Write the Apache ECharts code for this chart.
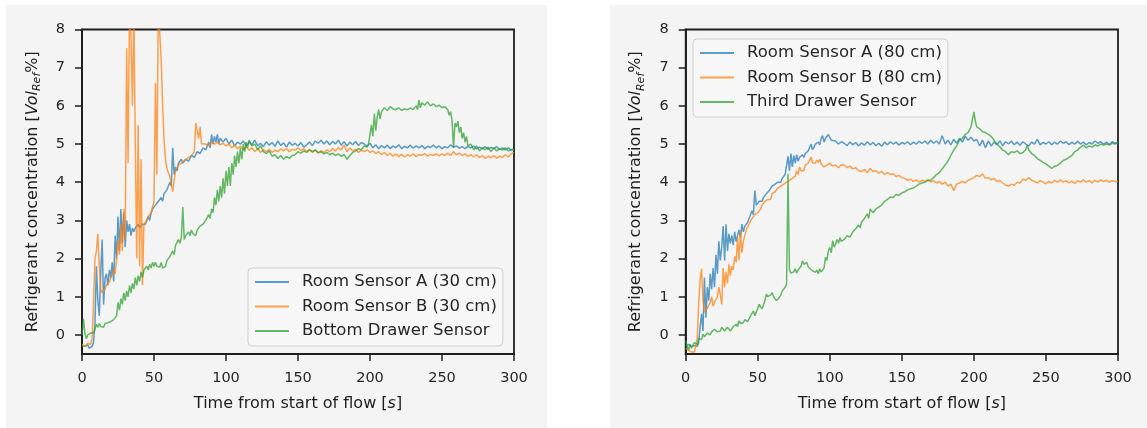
<!DOCTYPE html>
<html>
<head>
<meta charset="utf-8">
<script src="https://cdn.jsdelivr.net/npm/echarts@6/dist/echarts.min.js"></script>
<style>
  html, body { margin: 0; padding: 0; background: #ffffff; }
  #chart { width: 1147px; height: 428px; }
</style>
</head>
<body>
<div id="chart"></div>
<script>
// Sensor readings, [time in s, concentration in Vol_Ref %]
const roomA30 = [[0,-0.28],[2,-0.3],[4,-0.26],[5,-0.35],[6,-0.32],[7,-0.3],[8,-0.2],[9,0.3],[10,1.8],[11,0.9],[12,0.5],[13,1.6],[14,2.5],[15,0.8],[16,1.5],[17,1.6],[18,1.3],[19,1.7],[20,1.5],[21,1.9],[22,1.4],[23,2.6],[24,2.0],[25,3.1],[26,2.2],[27,3.3],[28,2.4],[29,3.2],[30,2.3],[31,3.0],[32,2.7],[33,2.9],[34,2.6],[35,2.8],[36,2.7],[37,2.8],[38,2.75],[39,2.9],[40,2.8],[41,2.75],[42,2.9],[43,2.85],[44,2.9],[45,3.0],[46,3.1],[47,3.0],[48,3.2],[49,3.3],[50,3.25],[51,3.4],[52,3.35],[53,3.5],[54,3.45],[55,3.6],[56,3.5],[57,3.7],[58,3.65],[59,3.8],[60,3.75],[61,4.0],[62,3.9],[63,4.9],[64,4.2],[65,4.4],[66,4.3],[67,4.5],[68,4.45],[69,4.6],[70,4.5],[72,4.6],[74,4.55],[76,4.7],[78,4.65],[80,4.8],[82,4.75],[84,4.9],[86,4.85],[88,5.05],[89,4.9],[90,5.25],[91,5.0],[92,5.2],[93,5.05],[94,5.25],[95,5.0],[96,5.15],[98,5.05],[100,5.15],[102,5.0],[104,5.1],[106,4.95],[108,5.05],
  [110,5.0],[112,5.08],[114,4.95],[116,5.05],[118,4.98],[120,5.1],[122,4.95],[124,5.02],[126,4.93],[128,5.06],[130,4.97],[132,5.04],[134,4.94],[136,5.08],[138,4.96],[140,5.03],[142,4.92],[144,5.05],[146,4.97],[148,5.02],[150,4.95],[152,5.04],[154,4.92],[156,4.98],[158,5.05],[160,4.96],[162,5.08],[164,5.02],[166,5.1],[168,5.0],[170,5.08],[172,4.98],[174,5.07],[176,5.0],[178,5.1],[180,4.97],[182,5.06],[184,4.95],[186,5.05],[188,4.98],[190,5.07],[192,4.96],[194,5.04],[196,5.0],[198,4.94],[200,5.02],[202,4.9],[204,4.98],[206,4.88],[208,4.96],[210,4.9],[212,4.97],[214,4.88],[216,4.95],[218,4.9],[220,4.98],[222,4.88],[224,4.94],[226,4.9],[228,4.97],[230,4.89],[232,4.95],[234,4.9],[236,4.96],[238,4.88],[240,4.94],[242,4.91],[244,4.97],[246,4.9],[248,4.95],[250,4.88],[252,4.93],[254,4.9],[256,4.98],[258,4.92],[260,4.95],[262,4.89],[264,4.93],[266,4.88],[268,4.94],[270,4.9],[272,4.95],[274,4.87],[276,4.92],[278,4.88],[280,4.93],[282,4.86],[284,4.91],[286,4.88],[288,4.93],[290,4.86],[292,4.9],[294,4.85],[296,4.9],[298,4.84],[300,4.86]];

const roomB30 = [[0,-0.25],[2,-0.3],[4,-0.22],[6,-0.25],[7,-0.1],[8,0.8],[9,2.0],[10,2.2],[11,2.65],[12,1.8],[13,1.2],[14,1.1],[15,1.1],[16,1.2],[17,1.3],[18,1.25],[19,1.4],[20,1.5],[21,1.45],[22,1.7],[23,1.6],[24,2.0],[25,2.5],[26,2.1],[27,2.9],[28,2.2],[29,3.3],[30,2.5],[31,7.5],[32,4.5],[33,8.6],[34,7.8],[35,6.0],[36,8.6],[37,5.0],[38,2.0],[39,5.5],[40,1.8],[41,4.6],[42,1.3],[43,2.9],[44,2.85],[45,3.0],[46,3.1],[47,3.05],[48,3.2],[49,3.35],[50,3.5],[51,6.6],[52,4.2],[53,8.6],[54,8.6],[55,7.2],[56,6.0],[57,5.1],[58,4.6],[59,4.35],[60,4.25],[61,4.15],[62,4.1],[63,3.75],[64,4.05],[65,4.3],[66,4.25],[67,4.45],[68,4.4],[69,4.5],[70,4.55],[72,4.6],[74,4.65],[76,4.7],[78,4.8],[79,5.55],[80,5.5],[81,5.15],[82,5.45],[83,5.0],[84,4.95],[86,5.0],[88,4.95],[90,5.05],[92,5.0],[94,5.05],[96,4.98],[98,5.02],
  [100,4.95],[102,5.0],[104,4.9],[106,4.97],[108,4.88],[110,4.95],[112,4.85],[114,4.92],[116,4.84],[118,4.9],[120,4.8],[122,4.88],[124,4.78],[126,4.85],[128,4.8],[130,4.86],[132,4.78],[134,4.84],[136,4.8],[138,4.87],[140,4.82],[142,4.88],[144,4.8],[146,4.86],[148,4.84],[150,4.9],[152,4.83],[154,4.88],[156,4.8],[158,4.86],[160,4.78],[162,4.84],[164,4.76],[166,4.82],[168,4.78],[170,4.85],[172,4.8],[174,4.88],[176,4.82],[178,4.9],[180,4.85],[182,4.97],[184,4.8],[186,4.9],[188,4.82],[190,4.86],[192,4.78],[194,4.84],[196,4.8],[198,4.85],[200,4.78],[202,4.82],[204,4.75],[206,4.8],[208,4.72],[210,4.78],[212,4.7],[214,4.76],[216,4.68],[218,4.74],[220,4.67],[222,4.73],[224,4.66],[226,4.72],[228,4.68],[230,4.74],[232,4.67],[234,4.72],[236,4.7],[238,4.75],[240,4.68],[242,4.73],[244,4.7],[246,4.74],[248,4.69],[250,4.74],[252,4.7],[254,4.76],[256,4.7],[258,4.8],[260,4.72],[262,4.76],[264,4.7],[266,4.74],[268,4.68],[270,4.72],[272,4.66],[274,4.72],[276,4.64],[278,4.7],[280,4.62],[282,4.68],[284,4.64],[286,4.7],[288,4.63],[290,4.68],[292,4.65],[294,4.72],[296,4.66],[298,4.74],[300,4.78]];

const bottomDrawer = [[0,0.0],[1,0.42],[2,0.05],[3,-0.1],[4,0.0],[5,-0.05],[6,0.05],[7,0.1],[8,0.05],[9,0.15],[10,0.28],[11,0.2],[12,0.3],[13,0.22],[14,0.25],[15,0.2],[16,0.3],[17,0.25],[18,0.32],[19,0.28],[20,0.35],[21,0.3],[22,0.4],[23,0.45],[24,0.5],[25,0.85],[26,0.65],[27,0.95],[28,0.8],[29,1.1],[30,0.9],[31,1.15],[32,1.0],[33,1.3],[34,1.1],[35,1.35],[36,1.2],[37,1.5],[38,1.3],[39,1.55],[40,1.4],[41,1.65],[42,1.5],[43,1.7],[44,1.65],[45,1.8],[46,1.7],[47,1.85],[48,1.75],[49,1.9],[50,1.8],[51,1.9],[52,1.8],[53,1.85],[54,1.78],[55,1.9],[56,1.75],[57,1.7],[58,1.8],[59,1.95],[60,1.9],[61,2.05],[62,2.0],[63,2.2],[64,2.1],[65,2.35],[66,2.3],[67,2.5],[68,2.4],[69,2.55],[70,3.35],[71,2.5],[72,2.6],[73,2.55],[74,2.7],[75,2.6],[76,2.75],[77,2.65],[78,2.7],[79,2.6],[80,2.75],[81,2.7],[82,2.85],[83,2.8],[84,2.9],[85,2.85],[86,3.0],[87,2.95],[88,3.15],[89,3.05],[90,3.3],[91,3.2],[92,3.6],[93,3.4],[94,3.8],[95,3.5],[96,3.9],[97,3.6],[98,4.1],[99,3.7],[100,4.3],[101,3.9],[102,4.4],[103,3.9],[104,4.5],[105,4.2],[106,4.7],[107,4.4],[108,4.8],[109,4.5],[110,4.9],[111,4.6],[112,5.0],[113,4.8],[114,5.05],[115,4.9],[116,5.1],[118,4.95],[120,5.0],[122,4.85],[124,4.95],[126,4.8],[128,4.75],[130,4.82],[132,4.68],[134,4.72],[136,4.62],[138,4.7],[140,4.6],[142,4.68],[144,4.62],[146,4.7],[148,4.72],[150,4.8],[152,4.76],[154,4.82],[156,4.78],[158,4.85],[160,4.8],[162,4.85],[164,4.78],[166,4.8],[168,4.74],[170,4.78],[172,4.72],[174,4.76],[176,4.7],[178,4.74],[180,4.68],[182,4.72],[184,4.6],[185,4.65],[186,4.7],[188,4.78],[190,4.82],[192,4.88],[194,4.85],[196,4.95],[198,4.92],[199,5.0],[200,5.05],[201,5.5],[202,5.2],[203,5.8],[204,5.35],[205,5.7],[206,5.9],[207,5.65],[208,5.85],[210,5.95],[212,5.88],[214,5.98],[216,5.92],[218,5.9],[220,5.95],[222,5.88],[224,5.92],[226,5.9],[228,5.94],[230,5.9],[232,6.0],[233,5.9],[234,6.15],[235,5.95],[236,6.08],[238,6.02],[240,6.1],[242,6.0],[244,6.05],[246,5.98],[248,6.02],[250,5.95],[252,5.98],[254,5.9],[255,5.75],[256,5.85],[257,5.6],[258,4.9],[259,5.55],[260,5.45],[261,5.6],[262,5.3],[263,5.45],[264,5.15],[265,5.3],[266,5.05],[267,5.2],[268,4.95],[270,5.0],[272,4.85],[274,4.95],[276,4.82],[278,4.9],[280,4.85],[282,4.92],[284,4.8],[286,4.9],[288,4.82],[290,4.88],[292,4.84],[294,4.9],[296,4.82],[298,4.86],[300,4.85]];

const roomA80 = [[0,-0.3],[2,-0.25],[4,-0.3],[6,-0.28],[8,-0.3],[9,-0.2],[10,0.2],[11,0.55],[12,0.1],[13,1.5],[14,0.45],[15,1.25],[16,0.9],[17,1.6],[18,1.2],[19,1.75],[20,1.25],[21,2.1],[22,1.6],[23,2.45],[24,1.95],[25,2.3],[26,2.85],[27,1.95],[28,2.9],[29,2.2],[30,2.65],[31,2.4],[32,2.6],[33,2.35],[34,2.7],[35,2.45],[36,2.6],[37,2.75],[38,2.55],[39,2.9],[40,2.7],[41,2.85],[42,2.8],[43,2.95],[44,3.05],[45,3.0],[46,3.25],[47,3.15],[48,3.78],[49,3.4],[50,3.45],[51,3.5],[52,3.55],[53,3.5],[54,3.6],[55,3.65],[56,3.7],[57,3.65],[58,3.78],[59,3.75],[60,3.9],[61,3.85],[62,3.95],[63,3.92],[64,4.0],[65,4.05],[66,4.0],[67,4.1],[68,4.08],[69,4.2],[70,4.22],[71,4.68],[72,4.3],[73,4.75],[74,4.4],[75,4.7],[76,4.5],[77,4.72],[78,4.55],[79,4.65],[80,4.6],[81,4.72],[82,4.65],[83,4.75],[84,4.7],[85,4.82],[86,4.85],[87,5.0],[88,4.85],[89,4.92],[90,5.0],[91,4.95],[92,5.05],[93,4.98],[94,5.15],[95,5.22],[96,5.05],[97,5.15],[98,5.1],[99,5.25],[100,5.2],[101,5.1],[102,5.05],[104,5.08],[106,5.0],[108,5.06],
  [110,5.02],[112,4.96],[114,5.05],[116,4.98],[118,5.04],[120,4.95],[122,5.03],[124,4.97],[126,5.06],[128,4.98],[130,5.04],[132,4.96],[134,5.02],[136,4.94],[138,5.05],[140,4.98],[142,5.06],[144,5.0],[146,5.05],[148,4.97],[150,5.04],[152,5.0],[154,5.06],[156,4.98],[158,5.05],[160,5.0],[162,5.07],[164,5.02],[166,5.08],[168,5.0],[170,5.1],[172,5.02],[174,5.08],[176,5.0],[178,5.22],[180,5.0],[182,5.1],[184,4.98],[186,5.12],[188,5.02],[190,5.15],[192,5.05],[194,5.2],[196,5.1],[198,5.18],[200,5.08],[202,5.12],[204,4.95],[206,5.1],[208,4.9],[210,5.08],[212,4.95],[214,5.05],[216,4.98],[218,5.08],[220,4.96],[222,5.06],[224,5.0],[226,5.08],[228,4.98],[230,5.05],[232,4.97],[234,5.06],[236,5.0],[238,4.95],[240,5.05],[242,5.0],[244,5.12],[246,4.98],[248,5.04],[250,5.0],[252,5.06],[254,4.98],[256,5.05],[258,5.0],[260,5.08],[262,5.02],[264,5.06],[266,4.98],[268,5.05],[270,5.0],[272,5.07],[274,5.0],[276,5.05],[278,4.98],[280,5.04],[282,5.0],[284,5.08],[286,5.02],[288,5.06],[290,5.0],[292,5.05],[294,4.98],[296,5.06],[298,5.02],[300,5.05]];

const roomB80 = [[0,-0.35],[2,-0.4],[4,-0.45],[5,-0.48],[6,-0.45],[7,-0.4],[8,-0.1],[9,0.8],[10,1.45],[11,1.73],[12,0.9],[13,0.6],[14,0.55],[15,0.7],[16,0.65],[17,0.85],[18,1.0],[19,0.75],[20,0.85],[21,0.9],[22,1.0],[23,1.25],[24,1.05],[25,0.8],[26,1.75],[27,1.25],[28,1.65],[29,1.35],[30,1.85],[31,1.55],[32,1.8],[33,1.7],[34,2.05],[35,1.9],[36,2.55],[37,1.95],[38,2.73],[39,2.15],[40,2.45],[41,2.5],[42,2.75],[43,2.7],[44,2.9],[45,2.85],[46,3.05],[47,3.0],[48,3.15],[49,3.1],[50,3.2],[51,3.25],[52,3.3],[53,3.4],[54,3.45],[55,3.5],[56,3.45],[57,3.55],[58,3.6],[59,3.55],[60,3.7],[61,3.65],[62,3.75],[63,3.8],[64,3.85],[65,3.8],[66,3.9],[67,3.85],[68,3.95],[69,3.9],[70,4.0],[72,4.05],[74,4.1],[76,4.15],[77,4.3],[78,4.2],[79,4.4],[80,4.3],[81,4.35],[82,4.3],[83,4.45],[84,4.4],[85,4.5],[86,4.55],[87,4.66],[88,4.5],[89,4.55],[90,4.5],[91,4.58],[92,4.52],[93,4.6],[94,4.48],[95,4.5],[96,4.4],[97,4.38],[98,4.45],[99,4.4],[100,4.5],[102,4.42],[104,4.45],[106,4.38],[108,4.46],
  [110,4.45],[112,4.38],[114,4.42],[116,4.35],[118,4.38],[120,4.3],[122,4.28],[124,4.33],[126,4.25],[128,4.36],[130,4.28],[132,4.3],[134,4.24],[136,4.28],[138,4.2],[140,4.25],[142,4.2],[144,4.22],[146,4.15],[148,4.18],[150,4.12],[152,4.1],[154,4.05],[156,4.08],[158,4.02],[160,4.06],[162,4.0],[164,4.05],[166,4.02],[168,4.06],[170,4.0],[172,4.04],[174,3.98],[176,4.02],[178,3.95],[180,4.0],[182,3.9],[184,3.95],[186,3.78],[188,3.95],[190,3.98],[192,4.02],[194,3.98],[196,4.05],[198,4.08],[200,4.12],[202,4.18],[204,4.15],[206,4.22],[208,4.1],[210,4.12],[212,4.06],[214,4.1],[216,4.02],[218,4.05],[220,3.98],[222,3.92],[224,3.9],[226,3.95],[228,3.92],[230,4.0],[232,3.98],[234,4.08],[236,4.05],[238,4.12],[240,4.05],[242,4.02],[244,3.98],[246,4.04],[248,4.0],[250,3.96],[252,4.02],[254,3.98],[256,4.05],[258,4.0],[260,4.06],[262,4.0],[264,4.04],[266,3.98],[268,4.03],[270,3.97],[272,4.04],[274,4.0],[276,4.06],[278,4.0],[280,4.04],[282,3.98],[284,4.05],[286,4.0],[288,4.06],[290,4.02],[292,4.05],[294,4.0],[296,4.04],[298,4.02],[300,4.02]];

const thirdDrawer = [[0,-0.15],[1,-0.3],[2,-0.4],[3,-0.25],[4,-0.35],[5,-0.3],[6,-0.2],[7,-0.15],[8,-0.25],[9,-0.1],[10,-0.05],[11,-0.12],[12,0.02],[13,-0.05],[14,-0.07],[15,0.05],[16,0.1],[17,0.0],[18,0.08],[19,0.06],[20,0.15],[21,0.19],[22,0.08],[23,0.12],[24,0.1],[25,0.2],[26,0.15],[27,0.1],[28,0.12],[29,0.2],[30,0.19],[31,0.1],[32,0.15],[33,0.22],[34,0.25],[35,0.28],[36,0.22],[37,0.37],[38,0.3],[39,0.25],[40,0.32],[41,0.4],[42,0.45],[43,0.35],[44,0.37],[45,0.5],[46,0.55],[47,0.63],[48,0.5],[49,0.54],[50,0.7],[51,0.8],[52,0.75],[53,0.68],[54,0.72],[55,0.9],[56,1.07],[57,1.0],[58,0.98],[59,1.05],[60,1.11],[61,1.0],[62,0.95],[63,0.9],[64,0.95],[65,0.98],[66,1.05],[67,1.15],[68,1.2],[69,1.25],[70,1.33],[71,4.22],[72,1.7],[73,1.62],[74,1.59],[75,1.65],[76,1.73],[77,1.62],[78,1.7],[79,1.68],[80,1.8],[81,1.94],[82,1.85],[83,1.81],[84,1.9],[85,1.78],[86,1.73],[88,1.68],[90,1.64],[91,1.7],[92,1.6],[93,1.73],[94,1.65],[95,1.68],[96,1.75],[97,2.03],[98,1.95],[99,2.2],[100,2.29],[101,2.15],[102,2.47],[103,2.3],[104,2.38],[105,2.5],[106,2.4],[107,2.55],[108,2.45],[110,2.5],[112,2.6],[114,2.56],[116,2.7],[118,2.78],[120,2.88],[121,2.8],[122,2.95],[124,3.05],[126,3.17],[127,3.05],[128,3.3],[129,3.35],[130,3.2],[132,3.3],[134,3.35],[136,3.4],[138,3.5],[140,3.55],[142,3.61],[144,3.6],[146,3.68],[148,3.65],[150,3.72],[152,3.75],[154,3.8],[156,3.83],[158,3.85],[160,3.9],[162,3.95],[164,3.98],[166,4.0],[168,4.05],[170,4.05],[172,4.12],[174,4.2],[176,4.25],[178,4.35],[180,4.45],[182,4.55],[184,4.7],[186,4.84],[188,4.95],[190,5.1],[192,5.15],[194,5.25],[196,5.3],[198,5.45],[199,5.5],[200,5.84],[201,5.6],[202,5.45],[204,5.4],[206,5.32],[208,5.3],[210,5.25],[212,5.2],[214,5.1],[216,5.0],[218,4.92],[220,4.84],[222,4.8],[224,4.72],[226,4.8],[228,4.78],[230,4.82],[232,4.75],[234,4.78],[236,4.85],[237,4.97],[238,4.85],[240,4.75],[242,4.7],[244,4.62],[246,4.57],[248,4.52],[250,4.48],[252,4.42],[254,4.36],[256,4.42],[258,4.44],[260,4.5],[262,4.57],[264,4.6],[266,4.65],[268,4.7],[270,4.8],[272,4.84],[274,4.92],[276,4.97],[278,4.9],[280,4.95],[282,4.92],[284,4.98],[286,4.95],[288,5.0],[290,4.97],[292,5.0],[294,4.98],[296,5.02],[298,5.0],[300,5.05]];

const yTicks = [0, 1, 2, 3, 4, 5, 6, 7, 8];
const xTicks = [0, 50, 100, 150, 200, 250, 300];

const leftNames = ['Room Sensor A (30 cm)', 'Room Sensor B (30 cm)', 'Bottom Drawer Sensor'];
const rightNames = ['Room Sensor A (80 cm)', 'Room Sensor B (80 cm)', 'Third Drawer Sensor'];
const colors = ['#1f77b4', '#ff7f0e', '#2ca02c'];

const FONT = 'DejaVu Sans';
const INK = '#1e1e1e';
const LINE_OPACITY = 0.72;

function xAxisFor(idx) {
  return {
    gridIndex: idx, type: 'value', min: 0, max: 300, interval: 50,
    name: '{n|Time from start of flow [}{i|s}{n|]}',
    nameLocation: 'middle', nameGap: 42,
    nameTextStyle: { rich: {
      n: { fontFamily: FONT, fontSize: 16, color: INK },
      i: { fontFamily: FONT, fontSize: 16, color: INK, fontStyle: 'italic' }
    } },
    axisLine: { show: true, onZero: false, lineStyle: { color: INK, width: 1.8 } },
    axisTick: { show: true, inside: false, length: 7, lineStyle: { color: INK, width: 1.5 }, customValues: xTicks },
    axisLabel: { fontFamily: FONT, fontSize: 14.5, color: '#262626', margin: 17, customValues: xTicks },
    splitLine: { show: false }
  };
}

function yAxisFor(idx) {
  return {
    gridIndex: idx, type: 'value', min: -0.5, max: 8,
    name: '{n|Refrigerant concentration [}{i|Vol}{s|Ref}{n|%]}',
    nameLocation: 'middle', nameRotate: 90, nameGap: 39,
    nameTextStyle: { rich: {
      n: { fontFamily: FONT, fontSize: 16, color: INK },
      i: { fontFamily: FONT, fontSize: 16, color: INK, fontStyle: 'italic' },
      s: { fontFamily: FONT, fontSize: 11, color: INK, fontStyle: 'italic', padding: [10, 0, 0, 0] }
    } },
    axisLine: { show: true, onZero: false, lineStyle: { color: INK, width: 1.8 } },
    axisTick: { show: true, inside: false, length: 7, lineStyle: { color: INK, width: 1.5 }, customValues: yTicks },
    axisLabel: { fontFamily: FONT, fontSize: 14.5, color: '#262626', margin: 17, customValues: yTicks },
    splitLine: { show: false }
  };
}

function lineSeries(name, data, color, idx) {
  return {
    name, type: 'line', data, xAxisIndex: idx, yAxisIndex: idx,
    symbol: 'none', showSymbol: false, clip: true, animation: false,
    color, lineStyle: { color, width: 1.5, opacity: LINE_OPACITY },
    emphasis: { disabled: true }
  };
}

function legendAt(left, top, names) {
  return {
    orient: 'vertical', left, top,
    data: names.map(function (n) { return { name: n, icon: 'rect' }; }),
    itemWidth: 34, itemHeight: 1.8, itemGap: 4.5,
    itemStyle: { opacity: LINE_OPACITY, borderWidth: 0 },
    padding: [4, 6, 5, 7],
    backgroundColor: 'rgba(247,247,247,0.9)', borderColor: '#cfcfcf', borderWidth: 1, borderRadius: 4,
    textStyle: { fontFamily: FONT, fontSize: 16.5, color: '#262626', lineHeight: 20, padding: [0, 0, 0, 8] },
    selectedMode: false
  };
}

const chart = echarts.init(document.getElementById('chart'), null, { renderer: 'canvas' });
chart.setOption({
  backgroundColor: '#ffffff',
  animation: false,
  graphic: [
    { type: 'rect', z: -10, silent: true, shape: { x: 6, y: 5, width: 541, height: 430 }, style: { fill: '#f4f4f4' } },
    { type: 'rect', z: -10, silent: true, shape: { x: 610, y: 5, width: 540, height: 430 }, style: { fill: '#f4f4f4' } }
  ],
  grid: [
    { left: 82, top: 29.5, width: 432, height: 324.5, show: true, borderColor: INK, borderWidth: 1.8, backgroundColor: 'transparent' },
    { left: 685.7, top: 29.5, width: 432.3, height: 324.5, show: true, borderColor: INK, borderWidth: 1.8, backgroundColor: 'transparent' }
  ],
  xAxis: [xAxisFor(0), xAxisFor(1)],
  yAxis: [yAxisFor(0), yAxisFor(1)],
  legend: [legendAt(248, 268, leftNames), legendAt(693, 39, rightNames)],
  series: [
    lineSeries(leftNames[0], roomA30, colors[0], 0),
    lineSeries(leftNames[1], roomB30, colors[1], 0),
    lineSeries(leftNames[2], bottomDrawer, colors[2], 0),
    lineSeries(rightNames[0], roomA80, colors[0], 1),
    lineSeries(rightNames[1], roomB80, colors[1], 1),
    lineSeries(rightNames[2], thirdDrawer, colors[2], 1)
  ]
});
</script>
</body>
</html>
